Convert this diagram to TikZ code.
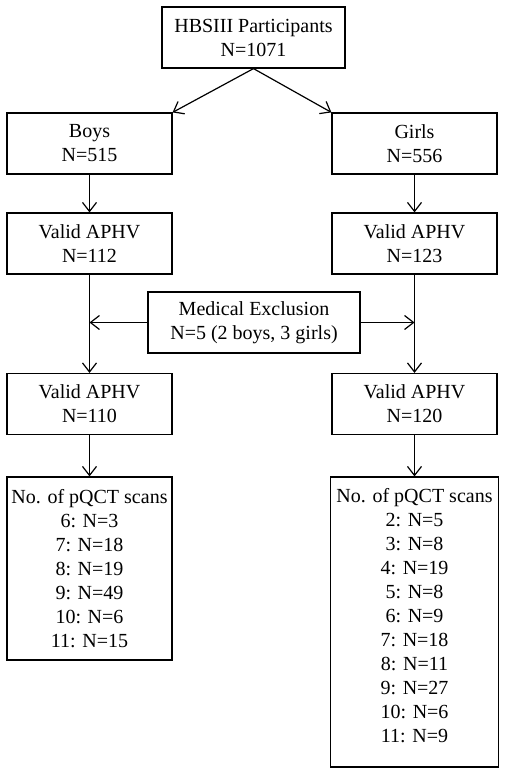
\documentclass[tikz,border=0pt]{standalone}
\usepackage{fontspec}
\setmainfont{Liberation Serif}
\usetikzlibrary{arrows.meta}
\tikzset{
  box/.style={draw, line width=0.6pt, align=center, inner sep=2pt,
    minimum width=82.5pt, minimum height=30.5pt,
    font=\fontsize{10}{12}\selectfont},
  flow/.style={line width=0.6pt, -{Straight Barb[length=4.5pt,width=7pt]}}
}
\begin{document}
\begin{tikzpicture}[x=0.5pt, y=-0.5pt]
  \useasboundingbox (0,0) rectangle (504,775);
  % Boxes of the flow chart
  \node[box, minimum width=91.5pt] (top) at (253.5,37.5) {HBSIII Participants\\N=1071};
  \node[box] (boys) at (89.5,143.5) {Boys\\N=515};
  \node[box] (girls) at (414.5,143.5) {Girls\\N=556};
  \node[box] (validb1) at (89.5,243.5) {Valid APHV\\N=112};
  \node[box] (validg1) at (414.5,243.5) {Valid APHV\\N=123};
  \node[box, minimum width=106pt] (medexcl) at (254,322.5) {Medical Exclusion\\N=5 (2 boys, 3 girls)};
  \node[box] (validb2) at (89.5,404) {Valid APHV\\N=110};
  \node[box] (validg2) at (414.5,404) {Valid APHV\\N=120};
  \node[box, minimum height=91.5pt] (scansb) at (89.5,568.5)
    {No. of pQCT scans\\6: N=3\\7: N=18\\8: N=19\\9: N=49\\10: N=6\\11: N=15};
  \node[box, minimum height=145pt] (scansg) at (414.5,622)
    {\parbox[c][134pt][t]{80pt}{\centering No. of pQCT scans\\2: N=5\\3: N=8\\4: N=19\\5: N=8\\6: N=9\\7: N=18\\8: N=11\\9: N=27\\10: N=6\\11: N=9}};

  % Where the exclusion arrows meet the vertical lines
  \coordinate (exclb) at (validb1.south |- medexcl.west);
  \coordinate (exclg) at (validg1.south |- medexcl.east);

  % Arrows
  \draw[flow] (top.south) -- (boys.north east);
  \draw[flow] (top.south) -- (girls.north west);
  \draw[flow] (boys) -- (validb1);
  \draw[flow] (girls) -- (validg1);
  \draw[flow] (validb1) -- (validb2);
  \draw[flow] (validg1) -- (validg2);
  \draw[flow] (medexcl.west) -- (exclb);
  \draw[flow] (medexcl.east) -- (exclg);
  \draw[flow] (validb2) -- (scansb);
  \draw[flow] (validg2) -- (scansg);
\end{tikzpicture}
\end{document}
